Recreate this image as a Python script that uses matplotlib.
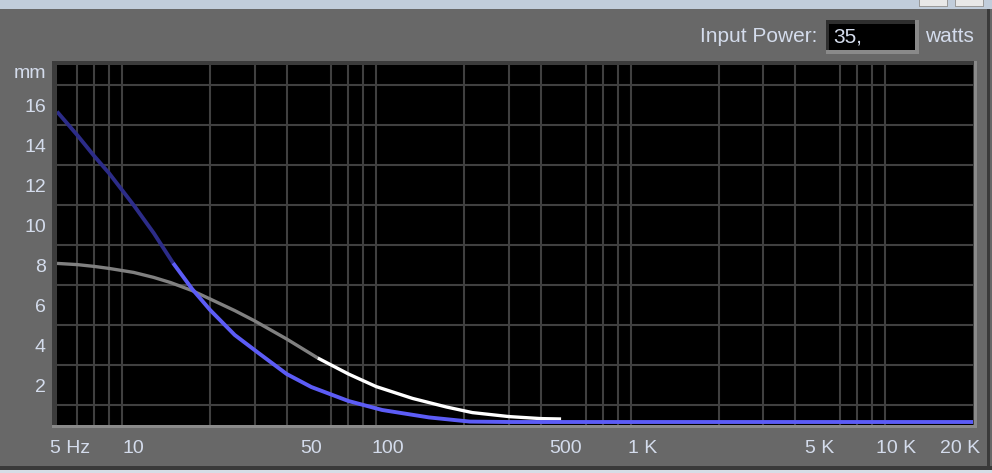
import matplotlib
matplotlib.use("Agg")
import matplotlib.pyplot as plt
from matplotlib.patches import Rectangle
from matplotlib.transforms import ScaledTranslation
import numpy as np

plt.rcParams['font.family'] = ['Liberation Sans', 'DejaVu Sans']

# -------------------------------
# Data
# -------------------------------
# excursion curve 1 (navy -> blue)
blue_freq = [5, 6, 7, 8, 10, 12, 14.3, 17, 20, 25, 31, 40, 50, 70, 95,
             145, 210, 300, 1000, 5000, 20000]
blue_mm = [15.67, 14.5, 13.45, 12.6, 11.0, 9.6, 8.1, 6.8, 5.75, 4.5, 3.6, 2.55,
           1.9, 1.2, 0.75, 0.38, 0.17, 0.15, 0.15, 0.15, 0.15]
blue_split = 14.3      # colour changes from navy to blue here

# excursion curve 2 (gray -> white)
grey_freq = [5, 6, 7, 8, 10, 12, 14, 17, 20, 25, 30, 40, 53, 70, 90, 125,
             170, 215, 300, 400, 480]
grey_mm = [8.08, 8.02, 7.93, 7.83, 7.63, 7.38, 7.12, 6.72, 6.3, 5.72, 5.2, 4.3,
           3.35, 2.55, 1.92, 1.33, 0.9, 0.62, 0.42, 0.32, 0.3]
grey_split = 53        # colour changes from gray to white here

x_ticks = [5, 10, 50, 100, 500, 1000, 5000, 10000, 20000]
x_labels = ["5 Hz", "10", "50", "100", "500", "1 K", "5 K", "10 K", "20 K"]
y_ticks = [2, 4, 6, 8, 10, 12, 14, 16, 18]
y_labels = ["2", "4", "6", "8", "10", "12", "14", "16", "mm"]
power_text = "35,"

# -------------------------------
# Figure / layout
# -------------------------------
W, H = 992, 473
fig = plt.figure(figsize=(W / 100, H / 100), dpi=100)
fig.patch.set_facecolor("#686868")


def px_rect(x0, y0, x1, y1, color, z=0):
    # rectangle in screen pixels (origin top-left)
    fig.patches.append(Rectangle((x0 / W, 1 - y1 / H), (x1 - x0) / W, (y1 - y0) / H,
                                 transform=fig.transFigure, color=color, zorder=z, lw=0))


# window chrome
px_rect(0, 0, W, 9, "#c1cddb")
px_rect(919, 0, 948, 7, "#9a9a9a", 1)
px_rect(920, 0, 947, 6, "#e8e8e8", 2)
px_rect(955, 0, 984, 7, "#9a9a9a", 1)
px_rect(956, 0, 983, 6, "#e8e8e8", 2)
px_rect(0, 466, W, 470, "#3a3a3a")
px_rect(0, 470, W, H, "#d6dde6")
px_rect(987, 9, 990, 466, "#3a3a3a")

# plot frame (sunken look)
px_rect(52, 61, 977, 428, "#8a8a8a")
px_rect(52, 61, 974, 425, "#3c3c3c", 1)

# input power box
px_rect(826, 20, 919, 54, "#8a8a8a")
px_rect(826, 20, 915, 50, "#2e2e2e", 1)
px_rect(829, 24, 915, 50, "black", 2)

txt_col = "#d4dcec"
fig.text(817 / W, 1 - 36 / H, "Input Power:", ha="right", va="center",
         fontsize=15, color=txt_col)
fig.text(833 / W, 1 - 37 / H, power_text, ha="left", va="center",
         fontsize=15, color=txt_col, zorder=5)
fig.text(925 / W, 1 - 36 / H, "watts", ha="left", va="center",
         fontsize=15, color=txt_col)

# -------------------------------
# Axes
# -------------------------------
ax = fig.add_axes([57 / W, 1 - 425 / H, 916 / W, 360 / H])
ax.set_zorder(10)
ax.set_facecolor("black")
ax.set_xscale("log")
ax.set_ylim(0, 18)
for s in ax.spines.values():
    s.set_visible(False)

# grid lines: 1-2-...-9 per decade, every 1 mm
xgrid = [m * 10 ** d for d in range(0, 5) for m in range(1, 10)]
xgrid = [g for g in xgrid if 5 < g < 20000]
ax.set_xticks(xgrid, minor=True)
ax.set_yticks(range(1, 18), minor=True)
ax.grid(which="minor", color="#404040", lw=1.5)
ax.tick_params(which="both", length=0)

ax.set_xticks(x_ticks, x_labels)
ax.set_yticks(y_ticks, y_labels)
ax.set_xlim(5, 20000)
ax.tick_params(axis="x", colors=txt_col, labelsize=14, pad=11)
ax.tick_params(axis="y", colors=txt_col, labelsize=14, pad=8)
xl = ax.get_xticklabels()
xl[0].set_horizontalalignment("left")
xl[0].set_transform(xl[0].get_transform() + ScaledTranslation(-7 / 100, 0, fig.dpi_scale_trans))
xl[-1].set_horizontalalignment("right")
xl[-1].set_transform(xl[-1].get_transform() + ScaledTranslation(7 / 100, 0, fig.dpi_scale_trans))
yl = ax.get_yticklabels()
yl[-1].set_verticalalignment("top")

# -------------------------------
# Curves
# -------------------------------
bf = np.array(blue_freq)
bm = np.array(blue_mm)
gf = np.array(grey_freq)
gm = np.array(grey_mm)

ax.plot(gf[gf <= grey_split], gm[gf <= grey_split], color="#808080", lw=2.4,
        solid_capstyle="butt", zorder=3)
ax.plot(gf[gf >= grey_split], gm[gf >= grey_split], color="white", lw=2.4,
        solid_capstyle="butt", zorder=3)
ax.plot(bf[bf <= blue_split], bm[bf <= blue_split], color="#2c2c88", lw=2.8,
        solid_capstyle="butt", zorder=4)
ax.plot(bf[bf >= blue_split], bm[bf >= blue_split], color="#5c5cf6", lw=2.8,
        solid_capstyle="butt", zorder=4)

fig.savefig("out.png", dpi=100, facecolor=fig.get_facecolor())
